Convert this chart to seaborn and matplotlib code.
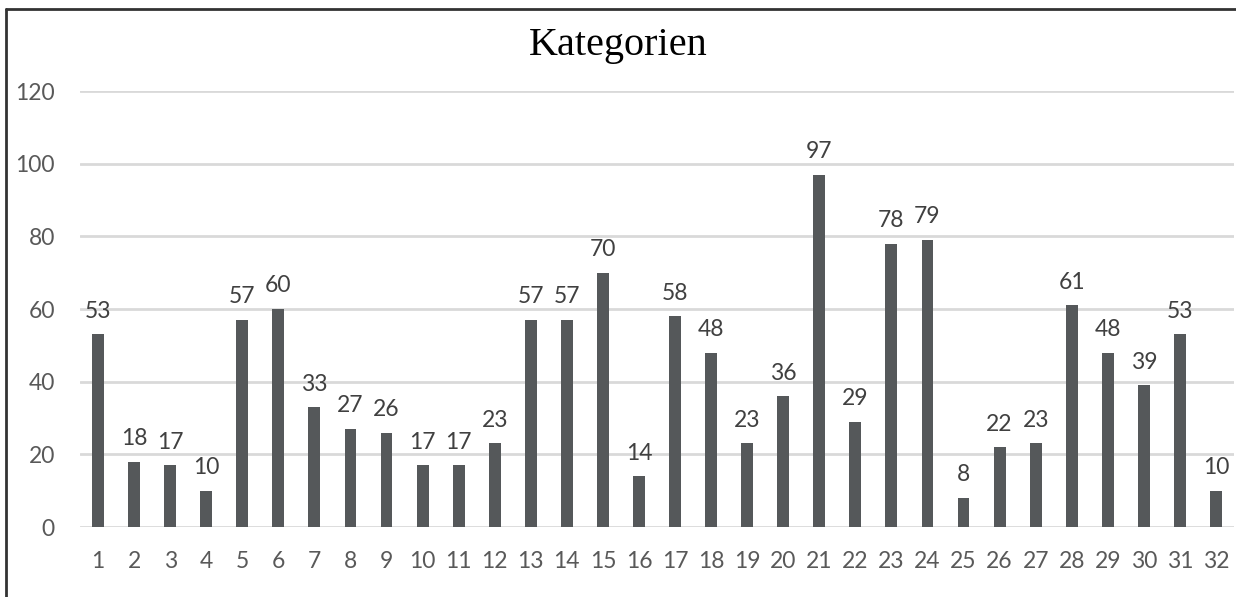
import matplotlib
matplotlib.use("Agg")
import matplotlib.pyplot as plt
import seaborn as sns
import pandas as pd

categories = [str(i) for i in range(1, 33)]
values = [53, 18, 17, 10, 57, 60, 33, 27, 26, 17, 17, 23, 57, 57, 70, 14,
          58, 48, 23, 36, 97, 29, 78, 79, 8, 22, 23, 61, 48, 39, 53, 10]
yticks = [0, 20, 40, 60, 80, 100, 120]
title = "Kategorien"

sns.set_theme(style="white")
plt.rcParams['font.family'] = ['Lato', 'DejaVu Sans']

df = pd.DataFrame({"cat": categories, "val": values})

fig = plt.figure(figsize=(12.36, 5.97), dpi=100)
ax = fig.add_axes([80/1236, 1 - 527/597, 1154/1236, (527-91)/597])

sns.barplot(data=df, x="cat", y="val", order=categories, color="#55585a",
            width=0.33, saturation=1, ax=ax, edgecolor="none")

ax.set_xlim(-0.5, 31.5)
ax.set_ylim(0, 120)
ax.set_yticks(yticks)
ax.set_yticklabels([str(t) for t in yticks])
ax.yaxis.grid(True, color="#d9d9d9", linewidth=2)
ax.set_axisbelow(True)
for s in ax.spines.values():
    s.set_visible(False)
ax.set_xlabel("")
ax.set_ylabel("")
ax.tick_params(axis="y", length=0, pad=18, labelsize=16.5, labelcolor="#595959")
ax.tick_params(axis="x", length=0, pad=17, labelsize=16.5, labelcolor="#595959")

for c in ax.containers:
    ax.bar_label(c, labels=[str(v) for v in values], padding=9,
                 fontsize=16.5, color="#404040")

fig.text(0.5, 1 - 45/597, title, ha="center", va="center",
         fontsize=29, family=["Liberation Serif", "DejaVu Serif"], color="black")

# outer frame
fig.add_artist(plt.Line2D([6/1236, 6/1236], [0, 1 - 9/597], color="#333333",
                          linewidth=2, transform=fig.transFigure))
fig.add_artist(plt.Line2D([6/1236, 1], [1 - 9/597, 1 - 9/597], color="#333333",
                          linewidth=2, transform=fig.transFigure))

fig.savefig("out.png", dpi=100)
